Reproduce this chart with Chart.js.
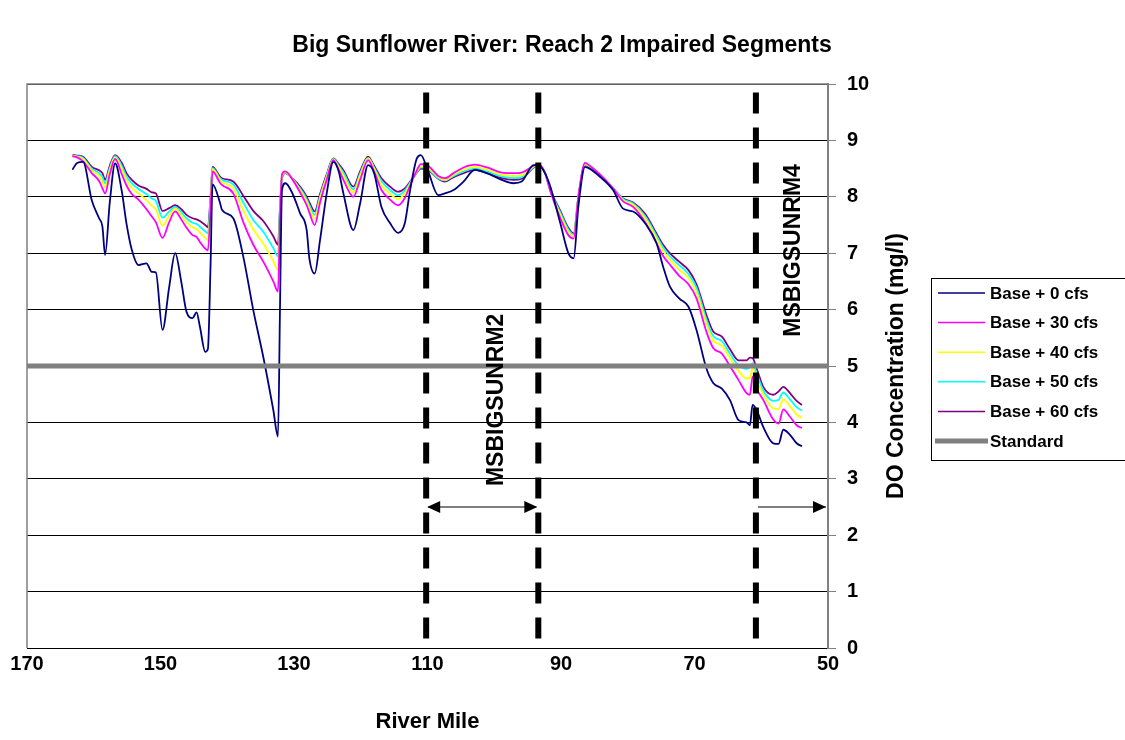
<!DOCTYPE html>
<html>
<head>
<meta charset="utf-8">
<script src="https://cdn.jsdelivr.net/npm/chart.js@4.4.0/dist/chart.umd.min.js"></script>
<style>
  html, body { margin: 0; padding: 0; background: #fff; }
  #wrap { width: 1125px; height: 740px; }
</style>
</head>
<body>
<div id="wrap"><canvas id="doChart"></canvas></div>
<script>
const riverMiles = [163.2,162.5,161.6,160.3,159.2,158.7,158.3,157.6,156.8,155.8,
  155.1,154.3,153.3,152.1,151.3,150.7,149.7,148.7,147.8,146.9,
  146.1,145.2,144.6,144.1,143.3,142.9,142.5,142.2,141.1,140.8,
  139.1,137.6,136.1,134.6,133.1,132.4,132.1,131.8,131.3,130.2,
  129.1,128.1,127.7,126.9,126.1,125.1,124.1,123.3,122.6,121.1,
  120.1,118.9,118.0,116.9,115.6,114.4,113.4,112.6,111.6,111.0,
  109.9,108.4,107.4,106.1,104.6,102.9,101.1,98.9,97.1,95.9,
  94.1,93.4,92.4,91.6,90.1,88.9,88.1,87.4,86.4,85.7,
  84.2,82.2,80.7,79.2,77.4,75.7,74.7,73.7,72.3,70.9,
  69.7,68.2,67.2,65.9,64.7,63.4,62.2,61.7,61.3,60.7,
  59.7,58.2,57.4,56.7,55.7,54.7,53.9];

const base0 = [8.48,8.60,8.62,7.94,7.62,7.47,6.97,7.90,8.59,8.10,
  7.53,7.06,6.79,6.82,6.67,6.66,5.64,6.40,7.00,6.50,
  5.96,5.85,5.95,5.70,5.25,5.30,6.80,8.22,7.90,7.77,
  7.62,6.94,5.99,5.16,4.22,3.75,6.00,8.12,8.24,8.05,
  7.71,7.41,6.91,6.64,7.23,8.06,8.62,8.45,8.06,7.41,
  7.88,8.56,8.42,7.82,7.53,7.36,7.53,8.12,8.68,8.74,
  8.45,8.03,8.06,8.12,8.27,8.48,8.42,8.30,8.24,8.27,
  8.56,8.56,8.42,8.18,7.53,7.00,6.91,7.82,8.53,8.50,
  8.36,8.12,7.79,7.74,7.53,7.18,6.76,6.41,6.20,6.05,
  5.64,4.95,4.70,4.60,4.40,4.04,4.00,3.95,4.31,4.22,
  3.92,3.63,3.62,3.87,3.78,3.63,3.58];

const base30 = [8.72,8.70,8.63,8.42,8.28,8.15,8.06,8.40,8.67,8.40,
  8.20,8.05,7.95,7.78,7.65,7.55,7.27,7.55,7.74,7.60,
  7.45,7.32,7.29,7.20,7.08,7.05,7.80,8.45,8.25,8.21,
  8.06,7.55,7.15,6.85,6.50,6.32,7.60,8.40,8.45,8.30,
  8.08,7.85,7.72,7.50,7.90,8.30,8.65,8.48,8.30,8.00,
  8.30,8.65,8.45,8.12,7.95,7.85,7.98,8.20,8.47,8.58,
  8.55,8.37,8.33,8.42,8.52,8.57,8.52,8.43,8.42,8.43,
  8.55,8.57,8.43,8.10,7.62,7.32,7.26,8.00,8.60,8.55,
  8.40,8.15,7.92,7.82,7.55,7.18,6.95,6.80,6.60,6.45,
  6.20,5.60,5.32,5.22,5.00,4.75,4.52,4.49,4.81,4.60,
  4.40,4.05,3.98,4.23,4.10,3.95,3.90];

const base40 = [8.73,8.71,8.67,8.47,8.37,8.27,8.17,8.47,8.70,8.49,
  8.30,8.16,8.06,7.94,7.84,7.78,7.49,7.66,7.79,7.68,
  7.55,7.46,7.43,7.37,7.27,7.23,7.89,8.49,8.30,8.26,
  8.15,7.76,7.42,7.17,6.86,6.70,7.69,8.37,8.44,8.31,
  8.12,7.92,7.80,7.61,7.97,8.35,8.66,8.53,8.38,8.08,
  8.37,8.68,8.50,8.21,8.05,7.96,8.06,8.23,8.45,8.54,
  8.51,8.35,8.30,8.39,8.48,8.53,8.48,8.39,8.37,8.38,
  8.54,8.57,8.43,8.11,7.68,7.38,7.30,8.00,8.58,8.54,
  8.40,8.15,7.94,7.86,7.62,7.26,7.04,6.89,6.71,6.56,
  6.31,5.74,5.45,5.36,5.14,4.91,4.78,4.79,4.96,4.76,
  4.50,4.25,4.24,4.41,4.29,4.14,4.08];

const base50 = [8.73,8.72,8.69,8.50,8.42,8.35,8.24,8.51,8.72,8.55,
  8.36,8.24,8.14,8.05,7.97,7.93,7.63,7.74,7.82,7.73,
  7.62,7.54,7.52,7.47,7.39,7.35,7.95,8.51,8.33,8.30,
  8.22,7.90,7.59,7.38,7.09,6.94,7.75,8.35,8.43,8.31,
  8.15,7.96,7.85,7.68,8.01,8.37,8.67,8.55,8.43,8.13,
  8.41,8.69,8.52,8.28,8.12,8.03,8.11,8.25,8.44,8.52,
  8.49,8.33,8.29,8.37,8.45,8.50,8.45,8.36,8.33,8.35,
  8.53,8.57,8.42,8.11,7.72,7.42,7.33,8.00,8.57,8.53,
  8.39,8.15,7.96,7.88,7.66,7.31,7.10,6.95,6.79,6.63,
  6.39,5.82,5.53,5.44,5.22,5.01,4.95,4.98,5.05,4.87,
  4.57,4.38,4.40,4.53,4.41,4.27,4.21];

const base60 = [8.74,8.73,8.71,8.53,8.47,8.42,8.30,8.55,8.74,8.60,
  8.42,8.30,8.20,8.14,8.08,8.06,7.75,7.80,7.85,7.78,
  7.68,7.62,7.60,7.57,7.50,7.46,8.00,8.53,8.36,8.33,
  8.27,8.02,7.75,7.57,7.30,7.15,7.80,8.33,8.42,8.32,
  8.18,8.00,7.90,7.74,8.05,8.40,8.68,8.58,8.47,8.18,
  8.45,8.71,8.55,8.33,8.18,8.09,8.15,8.27,8.43,8.50,
  8.47,8.32,8.27,8.35,8.42,8.48,8.42,8.33,8.30,8.32,
  8.52,8.57,8.42,8.12,7.75,7.45,7.35,8.00,8.56,8.52,
  8.39,8.15,7.97,7.90,7.70,7.35,7.15,7.00,6.85,6.70,
  6.45,5.90,5.61,5.52,5.30,5.10,5.10,5.15,5.14,4.96,
  4.63,4.49,4.55,4.63,4.52,4.38,4.31];

const seriesNames = ['Base + 0 cfs', 'Base + 30 cfs', 'Base + 40 cfs', 'Base + 50 cfs', 'Base + 60 cfs'];
const seriesColors = ['#000080', '#FF00FF', '#FFFF00', '#00FFFF', '#800080'];
const standardName = 'Standard';
const standardLevel = 5;
const segmentBounds = [110.2, 93.4, 60.8];
const segmentLabels = ['MSBIGSUNRM2', 'MSBIGSUNRM4'];
const arrowLevel = 2.5;
const xMin = 50, xMax = 170, xStep = 20;
const yMin = 0, yMax = 10, yStep = 1;

const FONT = 'Arial, "Liberation Sans", Helvetica, sans-serif';
const toPoints = vals => riverMiles.map((m, i) => ({ x: m, y: vals[i] }));
const seriesValues = [base0, base30, base40, base50, base60];

const datasets = seriesValues.map((vals, i) => ({
    label: seriesNames[i],
    data: toPoints(vals),
    borderColor: seriesColors[i],
    borderWidth: 1.8,
    pointRadius: 0,
    cubicInterpolationMode: 'monotone',
    order: 2
}));

datasets.push({
    label: standardName,
    data: [{ x: xMax, y: standardLevel }, { x: xMin, y: standardLevel }],
    borderColor: '#808080',
    borderWidth: 5,
    pointRadius: 0,
    order: 1
});

// dashed segment boundaries
segmentBounds.forEach(b => datasets.push({
    label: 'boundary',
    data: [{ x: b, y: 9.85 }, { x: b, y: yMin }],
    borderColor: '#000',
    borderWidth: 6,
    borderDash: [21, 14],
    pointRadius: 0,
    order: 0
}));

function arrowHead(ctx, x, y, dir) {
    ctx.beginPath();
    ctx.moveTo(x, y);
    ctx.lineTo(x - dir * 13, y - 6);
    ctx.lineTo(x - dir * 13, y + 6);
    ctx.closePath();
    ctx.fill();
}

const overlay = {
    id: 'overlay',
    beforeDatasetsDraw(chart) {
        const { ctx, chartArea: a } = chart;
        ctx.save();
        ctx.strokeStyle = '#808080';
        ctx.lineWidth = 1.5;
        ctx.beginPath();
        ctx.moveTo(a.left, a.bottom);
        ctx.lineTo(a.left, a.top);
        ctx.lineTo(a.right, a.top);
        ctx.stroke();
        ctx.restore();
    },
    afterDraw(chart) {
        const { ctx, chartArea: a, scales: { x, y } } = chart;
        ctx.save();
        ctx.fillStyle = '#000';
        ctx.textBaseline = 'middle';

        // title
        ctx.font = 'bold 23px ' + FONT;
        ctx.textAlign = 'center';
        ctx.fillText('Big Sunflower River: Reach 2 Impaired Segments', 562, 46);

        // y axis title (reads bottom to top)
        ctx.save();
        ctx.translate(897, (a.top + a.bottom) / 2);
        ctx.rotate(-Math.PI / 2);
        ctx.fillText('DO Concentration (mg/l)', 0, 0);
        ctx.restore();

        // segment arrows
        const ay = y.getPixelForValue(arrowLevel);
        const x1 = x.getPixelForValue(segmentBounds[0]);
        const x2 = x.getPixelForValue(segmentBounds[1]);
        const x3 = x.getPixelForValue(segmentBounds[2]);
        const x4 = x.getPixelForValue(xMin) - 2;
        ctx.strokeStyle = '#000';
        ctx.lineWidth = 1.2;
        ctx.beginPath();
        ctx.moveTo(x1 + 2, ay); ctx.lineTo(x2 - 2, ay);
        ctx.moveTo(x3 + 2, ay); ctx.lineTo(x4, ay);
        ctx.stroke();
        arrowHead(ctx, x1 + 1, ay, -1);
        arrowHead(ctx, x2 - 1, ay, 1);
        arrowHead(ctx, x4, ay, 1);

        // segment labels
        ctx.save();
        ctx.translate(x.getPixelForValue(99.7), y.getPixelForValue(4.4));
        ctx.rotate(-Math.PI / 2);
        ctx.fillText(segmentLabels[0], 0, 0);
        ctx.restore();
        ctx.save();
        ctx.translate(x.getPixelForValue(55.2), y.getPixelForValue(7.05));
        ctx.rotate(-Math.PI / 2);
        ctx.fillText(segmentLabels[1], 0, 0);
        ctx.restore();

        // legend
        const lx = 931, ly = 278, lw = 200, lh = 182;
        ctx.strokeStyle = '#000';
        ctx.lineWidth = 1;
        ctx.strokeRect(lx + 0.5, ly + 0.5, lw, lh);
        ctx.font = 'bold 17px ' + FONT;
        ctx.textAlign = 'left';
        const rowH = 29.6;
        const entries = chart.data.datasets.filter(d => d.label !== 'boundary');
        entries.forEach((d, i) => {
            const ry = ly + 15 + i * rowH;
            const thick = d.borderWidth > 3;
            ctx.strokeStyle = d.borderColor;
            ctx.lineWidth = thick ? 5 : 1.5;
            ctx.beginPath();
            ctx.moveTo(thick ? 935 : 938, ry);
            ctx.lineTo(thick ? 988 : 985, ry);
            ctx.stroke();
            ctx.fillStyle = '#000';
            ctx.fillText(d.label, 990, ry + 1);
        });
        ctx.restore();
    }
};

new Chart(document.getElementById('doChart'), {
    type: 'line',
    data: { datasets },
    options: {
        responsive: true,
        maintainAspectRatio: false,
        animation: false,
        layout: { padding: { left: 27, top: 84, right: 0, bottom: 0 } },
        plugins: { legend: { display: false }, tooltip: { enabled: false } },
        scales: {
            x: {
                type: 'linear',
                reverse: true,
                min: xMin,
                max: xMax,
                ticks: { stepSize: xStep, color: '#000', font: { family: FONT, size: 20, weight: 'bold' }, padding: 4 },
                grid: { display: false, drawTicks: false },
                border: { display: false },
                title: { display: true, text: 'River Mile', color: '#000', font: { family: FONT, size: 22, weight: 'bold' }, padding: { top: 4, bottom: 5 } },
                afterFit: s => { s.height = 92; }
            },
            y: {
                position: 'right',
                min: yMin,
                max: yMax,
                ticks: { stepSize: yStep, color: '#000', font: { family: FONT, size: 20, weight: 'bold' }, padding: 11 },
                grid: { color: '#000', lineWidth: 1, tickColor: '#808080', tickLength: 8 },
                border: { display: true, color: '#808080', width: 2 },
                afterFit: s => { s.width = 297; }
            }
        }
    },
    plugins: [overlay]
});
</script>
</body>
</html>
